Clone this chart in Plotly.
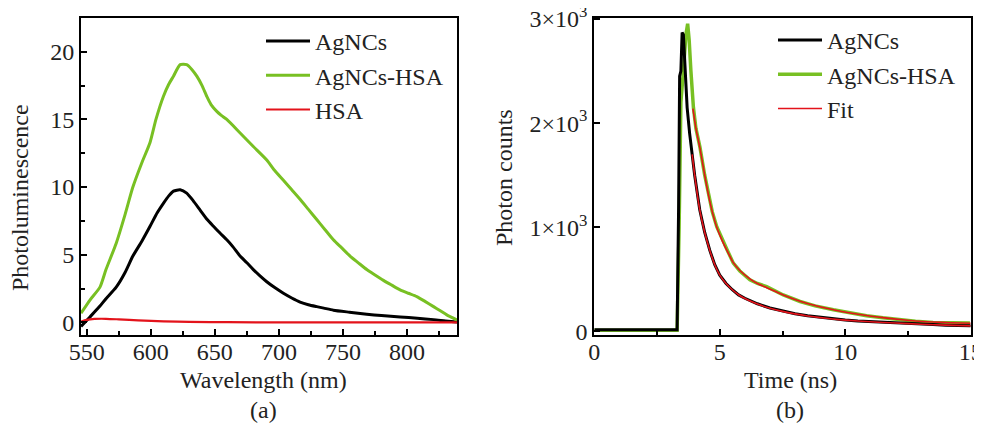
import plotly.graph_objects as go

# ---------- Panel (a): photoluminescence spectra ----------
wl_agncs = [545.5, 552.5, 560.3, 565, 573, 580, 586, 593, 599.4, 605, 609.8, 614, 617.7, 622.9,
            628, 633, 638.5, 644, 648.9, 654, 659.3, 664, 669.7, 675, 680, 685, 690.5, 697,
            703.5, 710, 716.5, 723, 729.5, 735, 742.5, 755, 768.6, 780, 794.6, 808, 820.7, 830, 839]
pl_agncs = [-0.3, 0.4, 1.2, 1.75, 2.6, 3.7, 4.9, 6.0, 7.1, 8.1, 8.8, 9.35, 9.7, 9.8,
            9.55, 9.0, 8.3, 7.6, 7.1, 6.6, 6.1, 5.6, 4.9, 4.4, 3.9, 3.45, 3.0, 2.55,
            2.15, 1.8, 1.5, 1.3, 1.16, 1.05, 0.9, 0.75, 0.6, 0.5, 0.4, 0.3, 0.2, 0.1, 0.02]

wl_hsa_agncs = [545.5, 552.5, 560.3, 565, 573, 580, 586, 593, 599.4, 604, 609.8, 614, 617.7,
                622.9, 628, 632, 635.9, 640, 643.7, 647, 651.5, 655, 659.3, 669.7, 680, 690.5,
                696, 703.5, 710, 716.5, 723, 729.5, 736, 742.5, 749, 755.5, 762, 768.6, 775,
                781.6, 788, 794.6, 801, 807.6, 814, 820.7, 826, 831, 839]
pl_hsa_agncs = [0.67, 1.65, 2.6, 3.9, 5.85, 8.0, 10.0, 11.8, 13.3, 15.0, 16.7, 17.6, 18.2,
                19.05, 19.05, 18.7, 18.2, 17.5, 16.7, 16.1, 15.6, 15.3, 15.0, 14.0, 13.0, 12.0,
                11.3, 10.5, 9.8, 9.1, 8.35, 7.6, 6.85, 6.1, 5.5, 4.9, 4.4, 3.9, 3.5,
                3.1, 2.75, 2.4, 2.15, 1.9, 1.55, 1.16, 0.85, 0.55, 0.17]

wl_hsa = [545.5, 550, 556, 565, 575, 590, 610, 630, 660, 700, 760, 839]
pl_hsa = [0.05, 0.18, 0.25, 0.26, 0.22, 0.14, 0.07, 0.03, 0.01, 0.0, 0.0, 0.0]

# ---------- Panel (b): fluorescence decay ----------
t_agncs = [0.0, 1.0, 2.0, 3.0, 3.30, 3.36, 3.40, 3.45, 3.50, 3.55, 3.62, 3.70, 3.80, 3.90,
           4.0, 4.2, 4.4, 4.6, 4.8, 5.0, 5.25, 5.5, 5.75, 6.0, 6.25, 6.5, 7.0, 7.5, 8.0,
           8.5, 9.0, 9.5, 10.0, 10.5, 11.0, 11.5, 12.0, 12.5, 13.0, 13.5, 14.0, 14.5, 15.0]
c_agncs = [15, 15, 14, 15, 15, 1200, 2450, 2500, 2870, 2850, 2500, 2150, 1900, 1700,
           1500, 1170, 950, 780, 640, 540, 460, 400, 350, 318, 290, 265, 225, 195, 170,
           150, 135, 120, 110, 100, 93, 87, 82, 76, 70, 65, 60, 57, 54]

t_hsa = [0.0, 1.0, 2.0, 3.0, 3.30, 3.38, 3.45, 3.55, 3.65, 3.72, 3.78, 3.85, 3.95, 4.05,
         4.21, 4.4, 4.54, 4.7, 4.88, 5.1, 5.3, 5.54, 5.8, 6.2, 6.5, 6.87, 7.2, 7.53, 8.2,
         8.8, 9.53, 10.2, 10.85, 11.5, 12.18, 12.8, 13.5, 14.2, 14.97]
c_hsa = [10, 10, 10, 10, 10, 1000, 2200, 2500, 2850, 2955, 2800, 2500, 2150, 1950,
         1770, 1500, 1325, 1150, 1005, 880, 780, 655, 580, 495, 460, 430, 390, 350, 287,
         245, 207, 175, 150, 130, 112, 98, 86, 82, 80]

t_fit_agncs = [3.9, 4.0, 4.2, 4.4, 4.6, 4.8, 5.0, 5.25, 5.5, 5.75, 6.0, 6.5, 7.0, 7.5, 8.0,
               8.5, 9.0, 9.5, 10.0, 11.0, 12.0, 13.0, 14.0, 15.0]
c_fit_agncs = [1700, 1500, 1170, 950, 780, 640, 540, 460, 400, 352, 315, 262, 222, 192, 168,
               148, 132, 119, 108, 92, 80, 69, 60, 53]

t_fit_hsa = [3.93, 4.05, 4.21, 4.4, 4.54, 4.7, 4.88, 5.1, 5.3, 5.54, 5.8, 6.2, 6.5, 6.87,
             7.2, 7.53, 8.2, 8.8, 9.53, 10.2, 10.85, 11.5, 12.18, 12.8, 13.5, 14.2, 15.0]
c_fit_hsa = [2140, 1950, 1760, 1500, 1320, 1150, 1000, 870, 770, 660, 585, 505, 460, 420,
             385, 350, 290, 248, 208, 177, 152, 132, 114, 100, 90, 83, 78]

x_ticks_a = [550, 600, 650, 700, 750, 800]
y_ticks_a = [0, 5, 10, 15, 20]
x_ticks_b = [0, 5, 10, 15]
y_ticks_b = [0, 1000, 2000, 3000]
y_ticktext_b = ["0", "1×10<sup>3</sup>", "2×10<sup>3</sup>", "3×10<sup>3</sup>"]

BLACK = "#000000"
GREEN = "#78c023"
RED = "#e3131b"
FONT = "Liberation Serif, Times New Roman, serif"

W, H = 982, 424
OFF = 8  # the page body offsets the figure by 8 px
def px(x): return (x - OFF) / W
def py(y): return 1 - (y - OFF) / H

fig = go.Figure()

# panel (a)
fig.add_trace(go.Scatter(x=wl_agncs, y=pl_agncs, mode="lines", name="AgNCs",
                         line=dict(color=BLACK, width=3, shape="spline", smoothing=0.6),
                         xaxis="x", yaxis="y", legend="legend"))
fig.add_trace(go.Scatter(x=wl_hsa_agncs, y=pl_hsa_agncs, mode="lines", name="AgNCs-HSA",
                         line=dict(color=GREEN, width=3, shape="spline", smoothing=0.6),
                         xaxis="x", yaxis="y", legend="legend"))
fig.add_trace(go.Scatter(x=wl_hsa, y=pl_hsa, mode="lines", name="HSA",
                         line=dict(color=RED, width=2.2, shape="spline", smoothing=0.8),
                         xaxis="x", yaxis="y", legend="legend"))

# panel (b)
fig.add_trace(go.Scatter(x=t_hsa, y=c_hsa, mode="lines", name="AgNCs-HSA",
                         line=dict(color=GREEN, width=3.5),
                         xaxis="x2", yaxis="y2", legend="legend2", legendrank=2))
fig.add_trace(go.Scatter(x=t_agncs, y=c_agncs, mode="lines", name="AgNCs",
                         line=dict(color=BLACK, width=3),
                         xaxis="x2", yaxis="y2", legend="legend2", legendrank=1))
fig.add_trace(go.Scatter(x=t_fit_hsa, y=c_fit_hsa, mode="lines", name="Fit",
                         line=dict(color=RED, width=1.6, shape="spline", smoothing=0.6),
                         xaxis="x2", yaxis="y2", legend="legend2", legendrank=3))
fig.add_trace(go.Scatter(x=t_fit_agncs, y=c_fit_agncs, mode="lines", name="Fit",
                         line=dict(color=RED, width=1.6, shape="spline", smoothing=0.6),
                         xaxis="x2", yaxis="y2", showlegend=False))

axis_common = dict(showline=True, linecolor="black", linewidth=2, mirror=True,
                   ticks="inside", tickcolor="black", tickwidth=1.5, ticklen=6,
                   showgrid=False, zeroline=False, automargin=False,
                   ticklabeloverflow="allow",
                   tickfont=dict(family=FONT, size=24, color="#222"))
minor_common = dict(ticks="inside", ticklen=4, tickcolor="black", tickwidth=1.5)

y_bot = py(334.5)
y_top = py(18)

fig.update_layout(
    width=W, height=H, autosize=False,
    margin=dict(l=0, r=0, t=0, b=0, pad=0, autoexpand=False),
    paper_bgcolor="white", plot_bgcolor="white",
    font=dict(family=FONT, size=24, color="#222"),
    xaxis=dict(domain=[px(81), px(457)], range=[545.5, 839], tickvals=x_ticks_a,
               minor=dict(dtick=25, **minor_common), anchor="y", ticklabelstandoff=-5,
               **axis_common),
    yaxis=dict(domain=[y_bot, y_top], range=[-0.9, 22.5], tickvals=y_ticks_a,
               minor=dict(dtick=2.5, **minor_common), anchor="x", **axis_common),
    xaxis2=dict(domain=[px(594.3), px(970.7)], range=[0, 15.0001], tickvals=x_ticks_b,
                minor=dict(dtick=2.5, **minor_common), anchor="y2", ticklabelstandoff=-5,
                **axis_common),
    yaxis2=dict(domain=[y_bot, y_top], range=[-30, 3010], tickvals=y_ticks_b, ticktext=y_ticktext_b,
                anchor="x2", **axis_common),
    legend=dict(x=px(261), y=py(19), xanchor="left", yanchor="top",
                bgcolor="rgba(0,0,0,0)", font=dict(family=FONT, size=24, color="#222"),
                tracegroupgap=0, itemwidth=44),
    legend2=dict(x=px(773), y=py(18), xanchor="left", yanchor="top",
                 bgcolor="rgba(0,0,0,0)", font=dict(family=FONT, size=24, color="#222"),
                 tracegroupgap=0, itemwidth=44, traceorder="normal"),
    annotations=[
        dict(text="Wavelength (nm)", x=px(264), y=py(380), xref="paper", yref="paper",
             showarrow=False, xanchor="center", yanchor="middle", font=dict(size=24)),
        dict(text="(a)", x=px(264), y=py(410), xref="paper", yref="paper",
             showarrow=False, xanchor="center", yanchor="middle", font=dict(size=24)),
        dict(text="Photoluminescence", x=px(20), y=py(198), xref="paper", yref="paper",
             showarrow=False, textangle=-90, xanchor="center", yanchor="middle", font=dict(size=24)),
        dict(text="Time (ns)", x=px(790), y=py(380), xref="paper", yref="paper",
             showarrow=False, xanchor="center", yanchor="middle", font=dict(size=24)),
        dict(text="(b)", x=px(790), y=py(410), xref="paper", yref="paper",
             showarrow=False, xanchor="center", yanchor="middle", font=dict(size=24)),
        dict(text="Photon counts", x=px(504), y=py(178), xref="paper", yref="paper",
             showarrow=False, textangle=-90, xanchor="center", yanchor="middle", font=dict(size=24)),
    ],
)

fig.write_html("out.html")
